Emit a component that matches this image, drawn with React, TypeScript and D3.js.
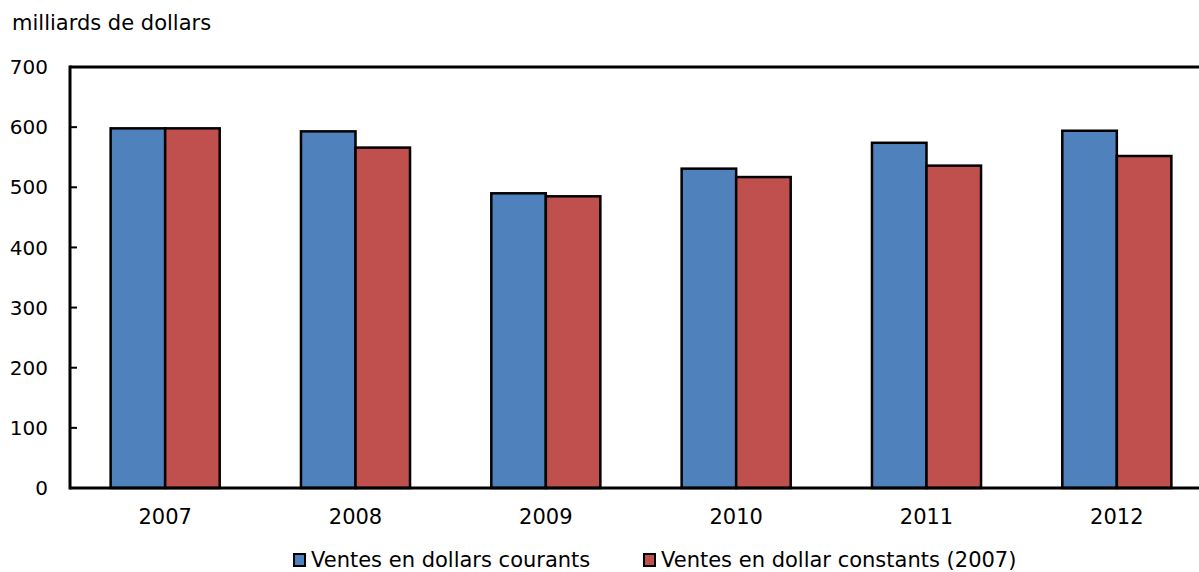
import * as d3 from "d3";

const years = ["2007", "2008", "2009", "2010", "2011", "2012"];
const courants = [598, 593, 490, 531, 574, 594];
const constants = [598, 566, 485, 517, 536, 552];
const seriesNames = ["Ventes en dollars courants", "Ventes en dollar constants (2007)"];
const seriesColors = ["#4f81bd", "#c0504d"];
const yTicks = [0, 100, 200, 300, 400, 500, 600, 700];

const W = 1199;
const H = 572;
const margin = { top: 67, left: 70, bottom: 488, right: 1212 };
const font = "'DejaVu Sans', Verdana, sans-serif";

export default function App() {
  const x = d3
    .scaleBand<string>()
    .domain(years)
    .range([margin.left, margin.right])
    .paddingInner(0.427)
    .paddingOuter(0.2135);

  const x1 = d3
    .scaleBand<number>()
    .domain([0, 1])
    .range([0, x.bandwidth()]);

  const y = d3.scaleLinear().domain([0, 700]).range([margin.bottom, margin.top]);

  const rows = years.map((yr, i) => ({ yr, vals: [courants[i], constants[i]] }));

  const legendX = [294, 644];

  return (
    <svg
      width={W}
      height={H}
      style={{ position: "absolute", left: 0, top: 0, display: "block" }}
      fontFamily={font}
    >
      <rect width={W} height={H} fill="white" />
      <text x={12} y={30} fontSize={21} fill="#000">
        milliards de dollars
      </text>

      {/* bars */}
      {rows.map((r) => (
        <g key={r.yr} transform={`translate(${x(r.yr)},0)`}>
          {r.vals.map((v, j) => (
            <rect
              key={j}
              x={x1(j)}
              y={y(v)}
              width={x1.bandwidth()}
              height={y(0) - y(v)}
              fill={seriesColors[j]}
              stroke="#000"
              strokeWidth={2.5}
            />
          ))}
        </g>
      ))}

      {/* frame */}
      <line x1={margin.left} x2={W} y1={y(700)} y2={y(700)} stroke="#000" strokeWidth={3} />
      <line x1={margin.left} x2={W} y1={y(0)} y2={y(0)} stroke="#000" strokeWidth={3} />
      <line x1={margin.left} x2={margin.left} y1={y(700) - 1.5} y2={y(0) + 1.5} stroke="#000" strokeWidth={3} />

      {/* y ticks */}
      {yTicks.map((t) => (
        <g key={t}>
          <line x1={margin.left} x2={margin.left + 7} y1={y(t)} y2={y(t)} stroke="#000" strokeWidth={2} />
          <text x={48} y={y(t)} dy="0.36em" textAnchor="end" fontSize={20} fill="#000">
            {t}
          </text>
        </g>
      ))}

      {/* x labels */}
      {years.map((yr) => (
        <text
          key={yr}
          x={(x(yr) ?? 0) + x.bandwidth() / 2}
          y={524}
          textAnchor="middle"
          fontSize={21}
          fill="#000"
        >
          {yr}
        </text>
      ))}

      {/* legend */}
      {seriesNames.map((name, i) => {
        const lx = legendX[i];
        return (
          <g key={name}>
            <rect x={lx} y={554} width={11} height={12} fill={seriesColors[i]} stroke="#000" strokeWidth={2} />
            <text x={lx + 17} y={567} fontSize={21} fill="#000">
              {name}
            </text>
          </g>
        );
      })}
    </svg>
  );
}
